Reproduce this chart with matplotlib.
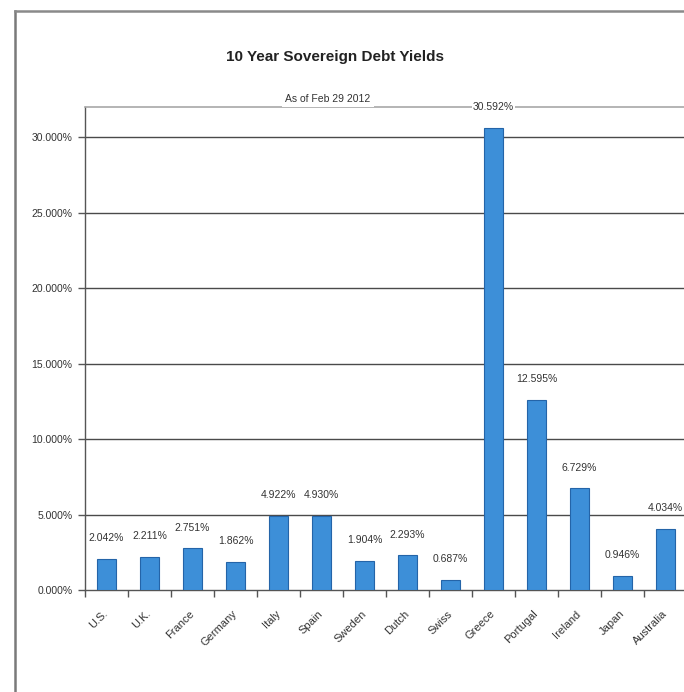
import matplotlib
matplotlib.use("Agg")
import matplotlib.pyplot as plt
from matplotlib.lines import Line2D

# 10 year sovereign yields, Feb 29 2012
countries = ["U.S.", "U.K.", "France", "Germany", "Italy", "Spain", "Sweden",
             "Dutch", "Swiss", "Greece", "Portugal", "Ireland", "Japan", "Australia"]
yields = [2.042, 2.211, 2.751, 1.862, 4.922, 4.930, 1.904,
          2.293, 0.687, 30.592, 12.595, 6.729, 0.946, 4.034]
yticks = [0, 5, 10, 15, 20, 25, 30]

narrow = ["Liberation Sans Narrow", "Liberation Sans", "DejaVu Sans"]
bar_color = "#3d8fd8"
edge_color = "#2464a8"
txt = "#333333"

W, H = 684, 692
fig = plt.figure(figsize=(W / 100, H / 100), dpi=100)
fig.patch.set_facecolor("white")

# outer frame of the chart object (left + top edges visible)
fig.add_artist(Line2D([15 / W, 15 / W], [0, 1 - 11 / H], transform=fig.transFigure,
                      color="#7a7a7a", lw=1.8))
fig.add_artist(Line2D([15 / W, 1], [1 - 11 / H, 1 - 11 / H], transform=fig.transFigure,
                      color="#8a8a8a", lw=1.8))

ax = fig.add_axes([85 / W, 102 / H, 602 / W, 483 / H])
x = list(range(len(countries)))
ax.bar(x, yields, width=0.43, color=bar_color, edgecolor=edge_color, linewidth=0.8, zorder=3)

ax.set_xlim(-0.5, len(countries) - 0.5)
ax.set_ylim(0, 32)

# gridlines
for v in yticks[1:]:
    ax.axhline(v, color="#4a4a4a", lw=1.0, zorder=1)

ax.set_yticks(yticks)
ax.set_yticklabels(["{:.3f}%".format(v) for v in yticks], family=narrow, fontsize=7.5, color=txt)
ax.tick_params(axis="y", length=5, width=1, color="#555555", pad=4)

ax.set_xticks(x)
ax.set_xticklabels(countries, rotation=45, ha="right", va="center", rotation_mode="anchor",
                   family=narrow, fontsize=8, color=txt)
ax.tick_params(axis="x", which="major", length=0, pad=16)
ax.set_xticks([i - 0.5 for i in range(len(countries) + 1)], minor=True)
ax.tick_params(axis="x", which="minor", length=5, width=1, color="#555555")

for s in ["left", "bottom"]:
    ax.spines[s].set_color("#555555")
    ax.spines[s].set_linewidth(1.0)
ax.spines["top"].set_color("#a8a8a8")
ax.spines["top"].set_linewidth(1.2)
ax.spines["right"].set_visible(False)

# value labels
for xi, v in zip(x, yields):
    ax.annotate("{:.3f}%".format(v), (xi, v), xytext=(0, 15), textcoords="offset points",
                ha="center", va="center", family=narrow, fontsize=7.5, color=txt,
                bbox=dict(boxstyle="square,pad=0.1", fc="white", ec="none"), zorder=5,
                annotation_clip=False)

fig.text(335 / W, 1 - 57 / H, "10 Year Sovereign Debt Yields", ha="center", va="center",
         family=narrow, fontsize=11, fontweight="bold", color="#222222")
fig.text(328 / W, 1 - 99 / H, "As of Feb 29 2012", ha="center", va="center",
         family=narrow, fontsize=7.5, color=txt,
         bbox=dict(boxstyle="square,pad=0.3", fc="white", ec="none"), zorder=10)

fig.savefig("out.png", dpi=100, facecolor="white")
